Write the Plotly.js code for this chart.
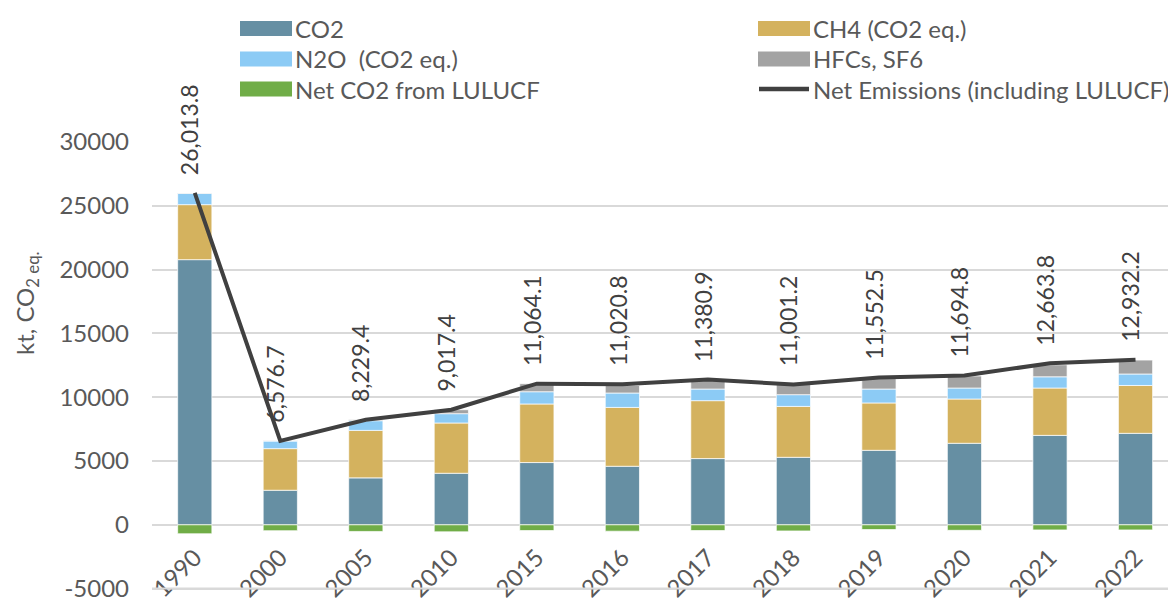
<!DOCTYPE html>
<html>
<head>
<meta charset="utf-8">
<script src="https://cdn.plot.ly/plotly-3.0.1.min.js"></script>
<style>
  html, body { margin: 0; padding: 0; background: #fff; }
  #chart { width: 1168px; height: 599px; }
</style>
</head>
<body>
<div id="chart"></div>
<script>
// emission data, kt CO2 eq.
const years = ['1990', '2000', '2005', '2010', '2015', '2016', '2017', '2018', '2019', '2020', '2021', '2022'];
const co2 =     [20780, 2710, 3680, 4040, 4880, 4590, 5190, 5290, 5840, 6390, 7010, 7170];
const ch4 =     [4310, 3260, 3720, 3940, 4590, 4610, 4540, 3990, 3710, 3470, 3710, 3750];
const n2o =     [890, 600, 760, 730, 960, 1130, 910, 920, 1090, 860, 880, 900];
const hfcs =    [30, 10, 70, 310, 630, 590, 740, 830, 880, 940, 940, 1090];
const lulucf =  [-700, -460, -520, -550, -450, -500, -450, -480, -370, -430, -400, -400];
const netEmissions = [26013.8, 6576.7, 8229.4, 9017.4, 11064.1, 11020.8, 11380.9, 11001.2, 11552.5, 11694.8, 12663.8, 12932.2];
const yTicks = [-5000, 0, 5000, 10000, 15000, 20000, 25000, 30000];

const seriesNames = ['CO2', 'CH4 (CO2 eq.)', 'N2O  (CO2 eq.)', 'HFCs, SF6', 'Net CO2 from LULUCF', 'Net Emissions (including LULUCF)'];
const seriesColors = ['#668fa3', '#d4b25e', '#8ccbf5', '#a3a3a3', '#70ad47', '#404040'];
const barValues = [co2, ch4, n2o, hfcs, lulucf];

const fontFam = 'Lato, "Open Sans", sans-serif';
const textCol = '#595959';
const gridCol = '#d9d9d9';

// plot area in pixels; y range runs a bit below -5000 so that gridline stays
const yMin = -5500, yMax = 30000;
const xRange = [-0.5, 11.38];
const plotL = 152, plotT = 142, plotW = 1016, plotH = 453;
const px2x = p => (p - plotL) / plotW;
const px2y = p => (plotT + plotH - p) / plotH;
const val2paper = v => (v - yMin) / (yMax - yMin);

let data = barValues.map((vals, i) => ({
  x: years,
  y: vals,
  type: 'bar',
  name: seriesNames[i],
  width: 0.4,
  marker: {color: seriesColors[i], line: {color: 'rgba(255,255,255,0.7)', width: 1}},
  hoverinfo: 'y'
}));

data.push({
  x: years,
  y: netEmissions,
  type: 'scatter',
  mode: 'lines',
  name: seriesNames[5],
  line: {color: seriesColors[5], width: 4}
});

// data labels above the line
let annotations = netEmissions.map((v, i) => ({
  x: i,
  y: v,
  xref: 'x', yref: 'y',
  text: v.toLocaleString('en-US', {minimumFractionDigits: 1, maximumFractionDigits: 1}),
  textangle: -90,
  showarrow: false,
  xanchor: 'center',
  yanchor: 'bottom',
  yshift: 16,
  xshift: -5,
  font: {family: fontFam, size: 23, color: '#404040'}
}));

// y axis title
annotations.push({
  x: px2x(26), y: px2y(303),
  xref: 'paper', yref: 'paper',
  text: 'kt, CO<sub>2 eq.</sub>',
  textangle: -90,
  showarrow: false,
  xanchor: 'center', yanchor: 'middle',
  font: {family: fontFam, size: 24, color: textCol}
});

// lowest gridline, drawn by hand in paper units (plotly leaves it out here)
let shapes = [{
  type: 'line', xref: 'paper', yref: 'paper', layer: 'above',
  x0: 0, x1: 1, y0: val2paper(yTicks[0]), y1: val2paper(yTicks[0]),
  line: {color: gridCol, width: 2}
}];

// legend, two columns
const legCols = [240, 758];
const legRows = [28.5, 59, 89];
seriesNames.forEach((nm, i) => {
  const cx = legCols[i % 2];
  const cy = legRows[Math.floor(i / 2)];
  if (i < 5) {
    shapes.push({
      type: 'rect', xref: 'paper', yref: 'paper', layer: 'above',
      x0: px2x(cx), x1: px2x(cx + 52),
      y0: px2y(cy + 7.5), y1: px2y(cy - 7.5),
      fillcolor: seriesColors[i], line: {width: 0}
    });
  } else {
    shapes.push({
      type: 'line', xref: 'paper', yref: 'paper', layer: 'above',
      x0: px2x(cx + 1), x1: px2x(cx + 51),
      y0: px2y(cy), y1: px2y(cy),
      line: {color: seriesColors[i], width: 4.5}
    });
  }
  annotations.push({
    x: px2x(cx + 53), y: px2y(cy),
    xref: 'paper', yref: 'paper',
    text: nm,
    showarrow: false,
    xanchor: 'left', yanchor: 'middle',
    font: {family: fontFam, size: 24, color: textCol}
  });
});

let layout = {
  width: 1168,
  height: 599,
  margin: {l: plotL, r: 0, t: plotT, b: 599 - plotT - plotH},
  barmode: 'relative',
  showlegend: false,
  paper_bgcolor: '#fff',
  plot_bgcolor: 'rgba(0,0,0,0)',
  font: {family: fontFam, color: textCol},
  xaxis: {
    type: 'category',
    range: xRange,
    anchor: 'free',
    position: val2paper(0),
    showline: false,
    showgrid: false,
    ticks: '',
    tickangle: -45,
    ticklabelstandoff: 13,
    ticklabeloverflow: 'allow',
    tickfont: {family: fontFam, size: 24, color: textCol}
  },
  yaxis: {
    range: [yMin, yMax],
    tickvals: yTicks,
    ticktext: yTicks.map(String),
    showgrid: true,
    gridcolor: gridCol,
    gridwidth: 2,
    zeroline: true,
    zerolinecolor: gridCol,
    zerolinewidth: 2,
    showline: false,
    ticks: '',
    ticklabelstandoff: 22,
    ticklabeloverflow: 'allow',
    tickfont: {family: fontFam, size: 24, color: textCol}
  },
  annotations: annotations,
  shapes: shapes
};

Plotly.newPlot('chart', data, layout, {displayModeBar: false, staticPlot: true});
</script>
</body>
</html>
